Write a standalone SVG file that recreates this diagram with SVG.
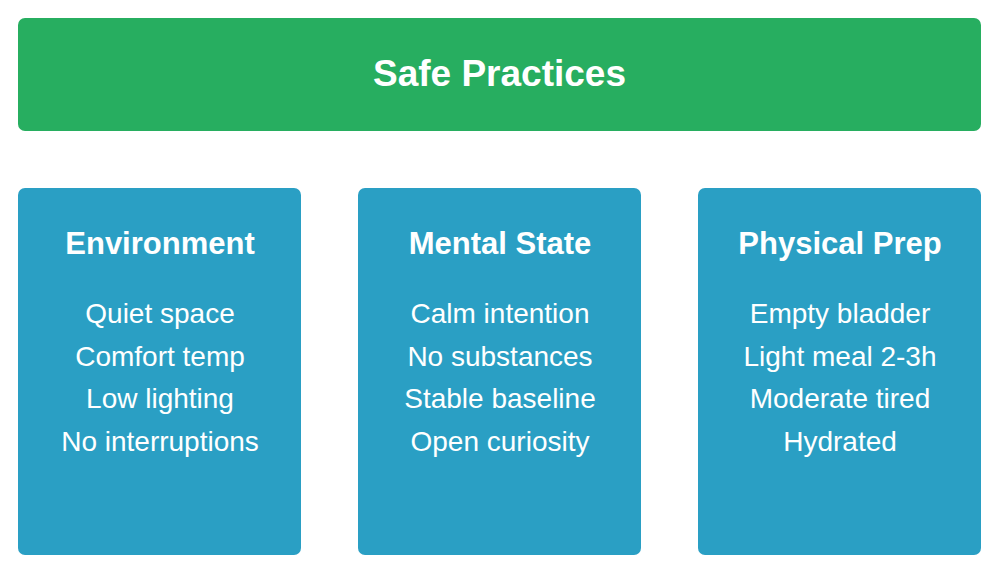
<svg xmlns="http://www.w3.org/2000/svg" width="999" height="574" viewBox="0 0 999 574">
<style>
.hdr{fill:#27ae60}
.card{fill:#2a9fc4}
text{font-family:"Liberation Sans",Arial,sans-serif;fill:#ffffff;text-anchor:middle}
.t{font-size:37px;font-weight:bold}
.h{font-size:31px;font-weight:bold}
.i{font-size:28px}
</style>
<rect width="999" height="574" fill="#ffffff"/>
<g id="safe-practices">
<rect class="hdr" x="18" y="18" width="963" height="113" rx="7"/>
<text class="t" x="499.5" y="86">Safe Practices</text>
</g>
<g id="environment">
<rect class="card" x="18" y="188" width="283" height="367" rx="7"/>
<text class="h" x="160" y="254">Environment</text>
<text class="i" x="160" y="323">Quiet space</text>
<text class="i" x="160" y="366">Comfort temp</text>
<text class="i" x="160" y="408">Low lighting</text>
<text class="i" x="160" y="451">No interruptions</text>
</g>
<g id="mental-state">
<rect class="card" x="358" y="188" width="283" height="367" rx="7"/>
<text class="h" x="500" y="254">Mental State</text>
<text class="i" x="500" y="323">Calm intention</text>
<text class="i" x="500" y="366">No substances</text>
<text class="i" x="500" y="408">Stable baseline</text>
<text class="i" x="500" y="451">Open curiosity</text>
</g>
<g id="physical-prep">
<rect class="card" x="698" y="188" width="283" height="367" rx="7"/>
<text class="h" x="840" y="254">Physical Prep</text>
<text class="i" x="840" y="323">Empty bladder</text>
<text class="i" x="840" y="366">Light meal 2-3h</text>
<text class="i" x="840" y="408">Moderate tired</text>
<text class="i" x="840" y="451">Hydrated</text>
</g>
<g id="connectors"></g>
</svg>
